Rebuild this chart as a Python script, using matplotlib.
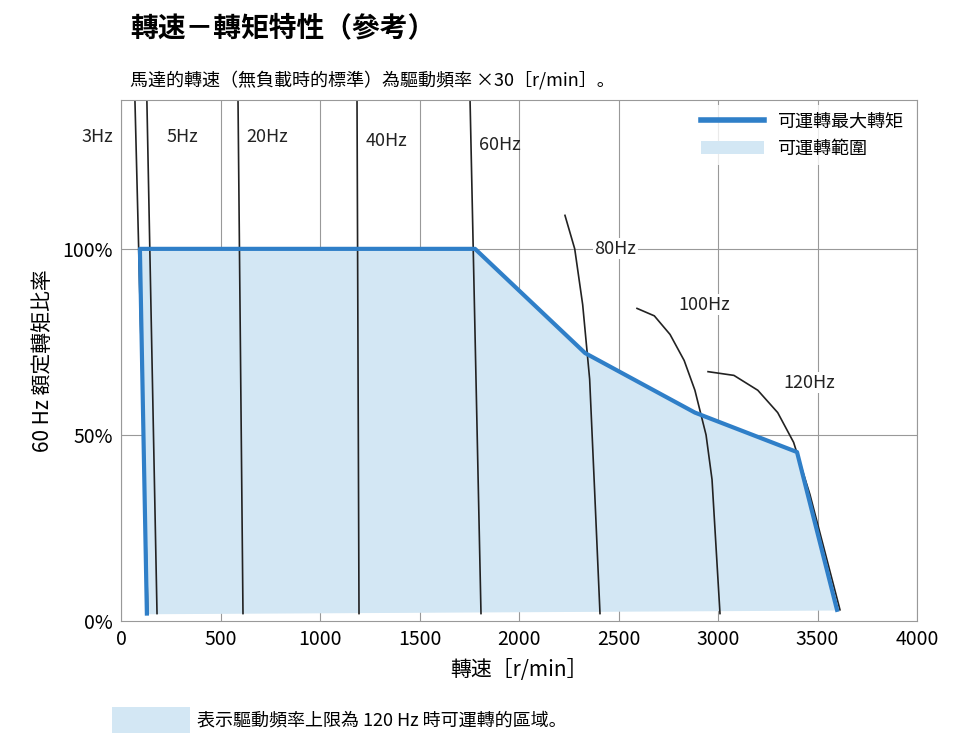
import matplotlib
matplotlib.use("Agg")
import matplotlib.pyplot as plt
from matplotlib.patches import Rectangle, Patch
from matplotlib.lines import Line2D
from matplotlib import font_manager as fm

cjk = [f.name for f in fm.fontManager.ttflist if "CJK" in f.name]
pref = [n for n in ["Noto Sans CJK TC", "Noto Sans CJK JP", "Noto Sans CJK SC", "Noto Sans CJK KR"] if n in cjk]
fam = pref[0] if pref else (cjk[0] if cjk else "DejaVu Sans")
plt.rcParams["font.family"] = [fam, "DejaVu Sans"]

max_x = [130, 95, 1779, 2332, 2884, 3397, 3598]
max_y = [2, 100, 100, 72, 56, 45.4, 3]
curves = {
    "3Hz": ([70, 135], [140, 2]),
    "5Hz": ([130, 181], [140, 2]),
    "20Hz": ([588, 613], [140, 2]),
    "40Hz": ([1186, 1196], [140, 2]),
    "60Hz": ([1754, 1809], [140, 2]),
    "80Hz": ([2231, 2280, 2320, 2355, 2380, 2407], [109, 100, 85, 65, 35, 2]),
    "100Hz": ([2593, 2680, 2759, 2830, 2884, 2940, 2970, 3010], [84, 82, 77, 70, 62, 50, 38, 2]),
    "120Hz": ([2950, 3080, 3200, 3300, 3380, 3462, 3540, 3613], [67, 66, 62, 56, 48, 34, 18, 3]),
}
labels = {"3Hz": (-200, 130), "5Hz": (230, 130), "20Hz": (630, 130), "40Hz": (1230, 129),
          "60Hz": (1800, 128), "80Hz": (2380, 100), "100Hz": (2800, 85), "120Hz": (3330, 64)}

fig = plt.figure(figsize=(9.66, 7.52), dpi=100)
ax = fig.add_axes([121/966, 1-621/752, 796/966, 521/752])
ax.set_xlim(0, 4000)
ax.set_ylim(0, 140)
blue = "#2f7fc8"
fill = "#d3e7f4"
ax.fill(max_x, max_y, color=fill, zorder=1)
for x in range(0, 4001, 500):
    ax.axvline(x, color="#999999", lw=0.8, zorder=0)
for y in (50, 100):
    ax.axhline(y, color="#999999", lw=0.8, zorder=0)
for k, (xs, ys) in curves.items():
    ax.plot(xs, ys, color="#222222", lw=1.2, zorder=2)
    lx, ly = labels[k]
    ax.text(lx, ly, k, fontsize=13, ha="left", va="center", color="#222222",
            bbox=dict(facecolor="white", edgecolor="none", pad=1) if k in ("80Hz", "100Hz", "120Hz") else None,
            zorder=3)
ax.plot(max_x, max_y, color=blue, lw=3, zorder=4)
ax.set_xticks(range(0, 4001, 500))
ax.set_xticklabels([str(v) for v in range(0, 4001, 500)], fontsize=14)
ax.set_yticks([0, 50, 100])
ax.set_yticklabels(["0%", "50%", "100%"], fontsize=14)
ax.tick_params(length=0, pad=6)
for s in ax.spines.values():
    s.set_color("#999999")
ax.set_xlabel("轉速［r/min］", fontsize=15, labelpad=6)
ax.set_ylabel("60 Hz 額定轉矩比率", fontsize=15, labelpad=6)

ax.legend(handles=[Line2D([0], [0], color=blue, lw=4), Patch(facecolor=fill)],
          labels=["可運轉最大轉矩", "可運轉範圍"], loc="upper right", fontsize=13,
          frameon=True, facecolor="white", edgecolor="none", handlelength=3.5, borderaxespad=0.3)

fig.text(130/966, 1-28/752, "轉速－轉矩特性（參考）", fontsize=20, fontweight="bold", va="center")
fig.text(130/966, 1-80/752, "馬達的轉速（無負載時的標準）為驅動頻率 ×30［r/min］。", fontsize=13, va="center")
fig.patches.append(Rectangle((112/966, 1-733/752), 78/966, 26/752, transform=fig.transFigure, facecolor=fill, edgecolor="none"))
fig.text(197/966, 1-720/752, "表示驅動頻率上限為 120 Hz 時可運轉的區域。", fontsize=13, va="center")
fig.savefig("out.png", dpi=100)
